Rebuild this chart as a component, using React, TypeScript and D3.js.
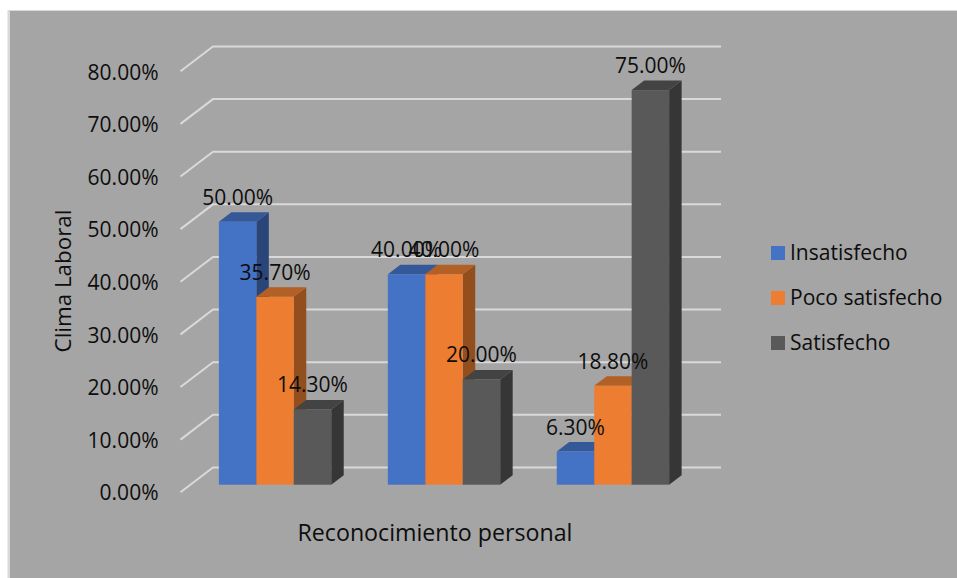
import React from "react";
import * as d3 from "d3";

const categories = ["Reconocimiento personal A", "Reconocimiento personal B", "Reconocimiento personal C"];
const seriesNames = ["Insatisfecho", "Poco satisfecho", "Satisfecho"];
const insatisfecho = [50, 40, 6.3];
const pocoSatisfecho = [35.7, 40, 18.8];
const satisfecho = [14.3, 20, 75];
const tickValues = [0, 10, 20, 30, 40, 50, 60, 70, 80];
const seriesValues = [insatisfecho, pocoSatisfecho, satisfecho];

const frontColors = ["#4472c4", "#ed7d31", "#595959"];
const topColors = ["#355899", "#b26025", "#434343"];
const sideColors = ["#29457a", "#934e1e", "#363636"];

const FONT = "'Open Sans', 'Noto Sans', sans-serif";
const INK = "#0d0d0d";
const pct = (v: number) => `${v.toFixed(2)}%`;

export default function App() {
  const y = d3.scaleLinear().domain([0, 80]).range([484.7, 63.8]);
  const groupX = d3.scaleBand<string>().domain(categories).range([190.5, 697.5]).paddingInner(0.335).paddingOuter(0.168);
  const barX = d3.scaleBand<string>().domain(seriesNames).range([0, groupX.bandwidth()]);
  const depthX = 12.5;
  const depthY = 9.5;
  const floorFront = { x: 180.5, dy: 7.5 };
  const floorBack = { x: 213, dy: -17.3 };
  const wallRight = 721;

  return (
    <svg
      width={957}
      height={578}
      viewBox="0 0 957 578"
      style={{ position: "absolute", left: 0, top: 0, fontFamily: FONT }}
    >
      <rect x={0} y={0} width={957} height={578} fill="#ffffff" />
      <rect x={7.5} y={10} width={949.5} height={568} fill="#d9d9d9" />
      <rect x={10} y={11} width={947} height={567} fill="#a5a5a5" />

      {/* Floor edge and back wall of each gridline */}
      {tickValues.map((t) => (
        <polyline
          key={t}
          points={`${floorFront.x},${y(t) + floorFront.dy} ${floorBack.x},${y(t) + floorBack.dy} ${wallRight},${y(t) + floorBack.dy}`}
          fill="none"
          stroke="#d9d9d9"
          strokeWidth={2}
        />
      ))}

      {/* Value axis labels */}
      {tickValues.map((t) => (
        <text key={t} x={158.5} y={y(t) + 15.7} textAnchor="end" fontSize={21} fill={INK}>
          {pct(t)}
        </text>
      ))}

      {/* Extruded bars, drawn series by series */}
      {categories.map((c, ci) =>
        seriesNames.map((s, si) => {
          const x0 = (groupX(c) ?? 0) + (barX(s) ?? 0);
          const w = barX.bandwidth();
          const top = y(seriesValues[si][ci]);
          const base = y(0);
          return (
            <g key={s}>
              <polygon
                points={`${x0 + w},${top} ${x0 + w + depthX},${top - depthY} ${x0 + w + depthX},${base - depthY} ${x0 + w},${base}`}
                fill={sideColors[si]}
              />
              <polygon
                points={`${x0},${top} ${x0 + depthX},${top - depthY} ${x0 + w + depthX},${top - depthY} ${x0 + w},${top}`}
                fill={topColors[si]}
              />
              <rect x={x0} y={top} width={w} height={base - top} fill={frontColors[si]} />
            </g>
          );
        })
      )}

      {/* Data labels sit above the bars */}
      {categories.map((c, ci) =>
        seriesNames.map((s, si) => {
          const x0 = (groupX(c) ?? 0) + (barX(s) ?? 0);
          const v = seriesValues[si][ci];
          return (
            <text
              key={s}
              x={x0 + barX.bandwidth() / 2}
              y={y(v) - 17}
              textAnchor="middle"
              fontSize={21}
              fill={INK}
            >
              {pct(v)}
            </text>
          );
        })
      )}

      <text
        transform="translate(71,281) rotate(-90)"
        textAnchor="middle"
        fontSize={22.4}
        fill={INK}
      >
        Clima Laboral
      </text>
      <text x={435} y={541} textAnchor="middle" fontSize={23.2} fill={INK}>
        Reconocimiento personal
      </text>

      {/* Legend */}
      {seriesNames.map((s, si) => (
        <g key={s}>
          <rect x={771} y={246 + si * 45} width={14} height={14} fill={frontColors[si]} />
          <text x={790} y={260 + si * 45} fontSize={21} fill={INK}>
            {s}
          </text>
        </g>
      ))}
    </svg>
  );
}
